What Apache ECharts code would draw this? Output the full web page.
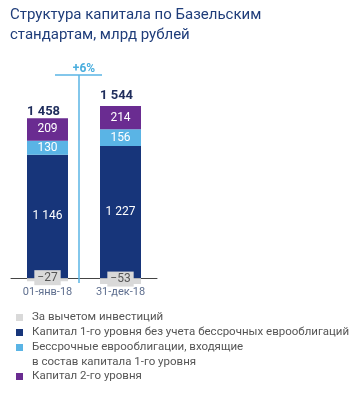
<!DOCTYPE html>
<html><head><meta charset="utf-8">
<script src="https://cdn.jsdelivr.net/npm/echarts@6/dist/echarts.min.js"></script>
<style>html,body{margin:0;padding:0;background:#fff}#c{width:363px;height:393px}</style>
</head><body><div id="c"></div>
<script>
var categories = ['01-янв-18', '31-дек-18'];
var deductions = [-27, -53];
var tier1 = [1146, 1227];
var perpetual = [130, 156];
var tier2 = [209, 214];
var totals = [1458, 1544];
var growthLabel = '+6%';
var names = ['За вычетом инвестиций', 'Капитал 1-го уровня без учета бессрочных еврооблигаций', 'Бессрочные еврооблигации, входящие\nв состав капитала 1-го уровня', 'Капитал 2-го уровня'];

function fmt(v) {
  var s = String(Math.abs(v)).replace(/\B(?=(\d{3})+(?!\d))/g, ' ');
  return v < 0 ? '\u2212' + s : s;
}
var chart = echarts.init(document.getElementById('c'), null, {renderer: 'canvas'});
var font = 'Roboto, sans-serif';
var inLabel = {show: true, position: 'inside', color: '#fff', fontSize: 12, fontFamily: font, formatter: function (p) { return fmt(p.value); }};
function legend(name, top, lead) {
  return {
    data: [name], orient: 'vertical', left: 16, top: top, icon: 'rect', itemWidth: 7, itemHeight: 7, itemGap: 0,
    selectedMode: false, padding: 0,
    formatter: function (n) {
      var lines = n.split('\n').map(function (l) { return '{p|}' + l; });
      return (lead ? '\n' : '') + lines.join('\n');
    },
    textStyle: {color: '#555', fontSize: 11.5, fontFamily: font, lineHeight: 15,
      rich: {p: {width: 4, lineHeight: 15}}}
  };
}
var totalOffsets = [-13, -17];
chart.setOption({
  animation: false,
  textStyle: {fontFamily: font},
  title: {text: 'Структура капитала по Базельским\nстандартам, млрд рублей', left: 10, top: 5, padding: 0,
    textStyle: {fontSize: 15, fontWeight: 'normal', color: '#1f3d7a', lineHeight: 20, fontFamily: font}},
  grid: {left: 11, width: 146, top: 95, height: 194},
  xAxis: {type: 'category', data: categories,
    axisLine: {show: true, onZero: true, lineStyle: {color: '#444', width: 1}},
    axisTick: {show: false},
    axisLabel: {color: '#5f6f8f', fontSize: 11, fontFamily: font, margin: -2}},
  yAxis: {type: 'value', min: -100, max: 1700, show: false, splitLine: {show: false}},
  legend: [
    legend(names[0], 310, false),
    legend(names[1], 325, false),
    legend(names[2], 325, true),
    legend(names[3], 369, false)
  ],
  series: [
    {name: names[0], type: 'bar', stack: 's', barWidth: 41, data: deductions, itemStyle: {color: '#d9d9d9'},
      label: {show: true, position: 'inside', offset: [0, -2], color: '#555', fontSize: 12, fontFamily: font,
        backgroundColor: '#d9d9d9', padding: [2, 3, 1, 3], formatter: function (p) { return fmt(p.value); }}, z: 3},
    {name: names[1], type: 'bar', stack: 's', barWidth: 41, data: tier1, itemStyle: {color: '#17357a'}, label: inLabel},
    {name: names[2], type: 'bar', stack: 's', barWidth: 41, data: perpetual, itemStyle: {color: '#5ab4e5'}, label: inLabel},
    {name: names[3], type: 'bar', stack: 's', barWidth: 41, data: tier2, itemStyle: {color: '#6a2c91'}, label: inLabel},
    {name: 'totals', type: 'bar', stack: 's', barWidth: 41,
      data: totals.map(function (t, i) { return {value: 0, label: {position: [0, totalOffsets[i]]}}; }),
      itemStyle: {color: 'transparent'},
      label: {show: true, align: 'left', color: '#1f2d5c', fontWeight: 'bold', fontSize: 13, fontFamily: font,
        formatter: function (p) { return fmt(totals[p.dataIndex]); }}}
  ],
  graphic: [
    {type: 'line', shape: {x1: 79, y1: 75, x2: 79, y2: 283}, style: {stroke: '#5ab4e5', lineWidth: 1.5}, z: 10},
    {type: 'line', shape: {x1: 55, y1: 75, x2: 102, y2: 75}, style: {stroke: '#5ab4e5', lineWidth: 1.5}, z: 10},
    {type: 'text', x: 84, y: 69, style: {text: growthLabel, fill: '#4aaede', font: 'bold 12px Roboto, sans-serif', textAlign: 'center', textVerticalAlign: 'middle'}, z: 10}
  ]
});
</script></body></html>
